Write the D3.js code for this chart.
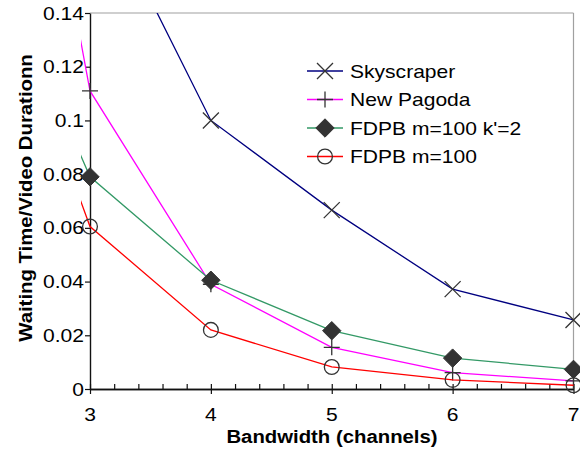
<!DOCTYPE html>
<html><head><meta charset="utf-8">
<script src="https://cdn.jsdelivr.net/npm/d3@7"></script>
<style>
html,body{margin:0;padding:0;background:#fff;}
svg{display:block;font-family:"Liberation Sans",Arial,sans-serif;}
</style></head>
<body><svg id="c" width="580" height="451"></svg>
<script>
// ---- data ----
const bandwidth = [2, 3, 4, 5, 6, 7];
const skyscraper = [null, 0.19, 0.1, 0.0666, 0.0372, 0.0257];
const newPagoda = [0.353, 0.111, 0.039, 0.0155, 0.0061, 0.003];
const fdpbK2 = [0.182, 0.079, 0.0405, 0.0217, 0.0115, 0.0073];
const fdpb = [0.184, 0.0605, 0.022, 0.0082, 0.0034, 0.0014];
const seriesNames = ["Skyscraper", "New Pagoda", "FDPB m=100 k'=2", "FDPB m=100"];
const xTickValues = [3, 4, 5, 6, 7];
const xTickLabels = ["3", "4", "5", "6", "7"];
const yTickValues = [0, 0.02, 0.04, 0.06, 0.08, 0.1, 0.12, 0.14];
const yTickLabels = ["0", "0.02", "0.04", "0.06", "0.08", "0.1", "0.12", "0.14"];
const xTitle = "Bandwidth (channels)";
const yTitle = "Waiting Time/Video Durationn";

// ---- layout ----
const svg = d3.select("#c");
const x = d3.scaleLinear().domain([3, 7]).range([90, 573.5]);
const y = d3.scaleLinear().domain([0, 0.14]).range([389, 13]);
const SX = 1.17, SXB = 1.13;
const FONT_R = 18, FONT_B = 18;
const markColor = "#333";
const colors = ["#000080", "#ff00ff", "#339966", "#ff0000"];
const markers = ["x", "plus", "diamond", "circle"];
const seriesVals = [skyscraper, newPagoda, fdpbK2, fdpb];

function stext(g, px, py, str, anchor, size, weight, rot, sx) {
  const t = g.append("g").attr("transform", `translate(${px},${py}) rotate(${rot || 0}) scale(${sx},1)`);
  t.append("text").attr("x", 0).attr("y", 0).attr("text-anchor", anchor)
    .attr("font-size", size).attr("font-weight", weight || "normal").attr("fill", "#000").text(str);
}

// plot border (top and right, gray)
svg.append("line").attr("x1", x(3)).attr("x2", x(7)).attr("y1", y(0.14)).attr("y2", y(0.14))
  .attr("stroke", "#a0a0a0").attr("stroke-width", 1.2);
svg.append("line").attr("x1", x(7)).attr("x2", x(7)).attr("y1", y(0)).attr("y2", y(0.14))
  .attr("stroke", "#a0a0a0").attr("stroke-width", 1.2);

// axes
const yAxis = d3.axisLeft(y).tickValues(yTickValues).tickSizeInner(5).tickSizeOuter(0).tickFormat("");
const gy = svg.append("g").attr("transform", `translate(${x(3)},0)`).call(yAxis);
const xAxisMajor = d3.axisBottom(x).tickValues(xTickValues).tickSizeInner(5).tickSizeOuter(0).tickFormat("");
const gx = svg.append("g").attr("transform", `translate(0,${y(0)})`).call(xAxisMajor);
const minorVals = d3.range(0, 21).map(i => 3 + i * 0.2);
const xAxisMinor = d3.axisBottom(x).tickValues(minorVals).tickSizeInner(-5).tickSizeOuter(0).tickFormat("");
const gxm = svg.append("g").attr("transform", `translate(0,${y(0)})`).call(xAxisMinor);
[gy, gx, gxm].forEach(g => {
  g.selectAll("path.domain").attr("stroke", "#111").attr("stroke-width", 1.4);
  g.selectAll(".tick line").attr("stroke", "#111").attr("stroke-width", 1.2);
});

// tick labels
const labG = svg.append("g");
yTickValues.forEach((v, i) => stext(labG, x(3) - 6, y(v) + 6.5, yTickLabels[i], "end", FONT_R, "normal", 0, SX));
xTickValues.forEach((v, i) => stext(labG, x(v), 421, xTickLabels[i], "middle", FONT_R, "normal", 0, SX));

// axis titles
stext(svg, 332, 443, xTitle, "middle", FONT_B, "bold", 0, SXB);
stext(svg, 32, 198, yTitle, "middle", FONT_B, "bold", -90, SXB);

// clip for lines
svg.append("clipPath").attr("id", "plotclip").append("rect")
  .attr("x", x(3) - 9).attr("y", y(0.14)).attr("width", x(7) - x(3) + 20).attr("height", y(0) - y(0.14) + 2);

function drawMarker(g, type, cx, cy) {
  const s = 8;
  if (type === "x") {
    g.append("path").attr("d", `M${cx - s},${cy - s}L${cx + s},${cy + s}M${cx - s},${cy + s}L${cx + s},${cy - s}`)
      .attr("stroke", markColor).attr("stroke-width", 1.3).attr("fill", "none");
  } else if (type === "plus") {
    g.append("path").attr("d", `M${cx - s},${cy}L${cx + s},${cy}M${cx},${cy - s}L${cx},${cy + s}`)
      .attr("stroke", markColor).attr("stroke-width", 1.3).attr("fill", "none");
  } else if (type === "diamond") {
    const d = 9.2;
    g.append("path").attr("d", `M${cx},${cy - d}L${cx + d},${cy}L${cx},${cy + d}L${cx - d},${cy}Z`)
      .attr("fill", markColor).attr("stroke", markColor).attr("stroke-width", 1);
  } else if (type === "circle") {
    g.append("circle").attr("cx", cx).attr("cy", cy).attr("r", 7.4)
      .attr("fill", "none").attr("stroke", markColor).attr("stroke-width", 1.3);
  }
}

// series
seriesVals.forEach((vals, si) => {
  const pts = bandwidth.map((b, i) => ({ b, v: vals[i] }));
  const line = d3.line().defined(d => d.v != null).x(d => x(d.b)).y(d => y(d.v));
  svg.append("path").attr("d", line(pts)).attr("clip-path", "url(#plotclip)")
    .attr("fill", "none").attr("stroke", colors[si]).attr("stroke-width", 1.3);
  const mg = svg.append("g");
  pts.filter(d => d.v != null && d.b >= 3 && d.v <= 0.14).forEach(d => drawMarker(mg, markers[si], x(d.b), y(d.v)));
});

// legend
const legRows = [71, 99.5, 128, 156.5];
const leg = svg.append("g");
seriesNames.forEach((name, i) => {
  const ly = legRows[i];
  leg.append("line").attr("x1", 307).attr("x2", 343).attr("y1", ly).attr("y2", ly)
    .attr("stroke", colors[i]).attr("stroke-width", 1.3);
  drawMarker(leg, markers[i], 325, ly);
  stext(leg, 350, ly + 6.5, name, "start", FONT_R, "normal", 0, SX);
});
</script>
</body></html>
